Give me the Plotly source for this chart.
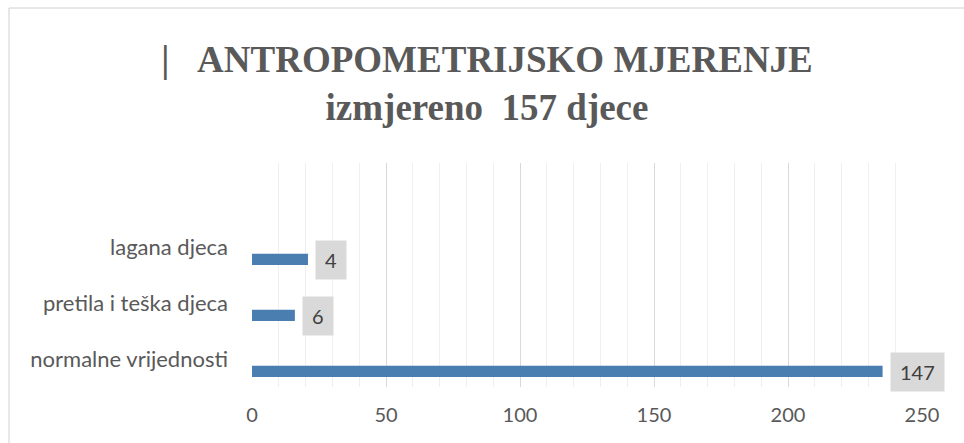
import plotly.graph_objects as go

# categories (bottom to top) and what the chart shows
categories = ["normalne vrijednosti", "pretila i teška djeca", "lagana djeca"]
bar_lengths = [235.3, 16.0, 20.9]      # bar lengths as drawn on the axis
label_values = [147, 6, 4]             # numbers printed in the data labels

title_line1 = "|\u00a0\u00a0\u00a0ANTROPOMETRIJSKO MJERENJE"
title_line2 = "izmjereno\u00a0\u00a0157 djece"

W, H = 964, 443
L, R, T, B = 252, 42, 163, 56

bar_color = "#4a7eb0"
grey_text = "#595959"

fig = go.Figure()
fig.add_trace(go.Bar(
    y=list(range(len(categories))),
    x=bar_lengths,
    orientation="h",
    marker=dict(color=bar_color, line=dict(width=0)),
    width=0.2,
    offset=-0.32,
    hoverinfo="skip",
))

# data labels in grey boxes
for i, (v, lab) in enumerate(zip(bar_lengths, label_values)):
    fig.add_annotation(
        x=v, y=i, xref="x", yref="y",
        text=str(lab), showarrow=False,
        xanchor="left", yanchor="middle",
        xshift=7, yshift=-12.5,
        bgcolor="#d9d9d9", borderpad=9, height=20,
        font=dict(family="Lato", size=20, color="#404040"),
    )

# outer chart border (top and left edges visible)
pw = W - L - R
ph = H - T - B
x0 = (9 - L) / pw
x1 = (W + 20 - L) / pw
y0 = (H - B - (H + 20)) / ph
y1 = (H - B - 8) / ph
fig.add_shape(type="rect", xref="paper", yref="paper",
              x0=x0, x1=x1, y0=y0, y1=y1,
              line=dict(color="#d0d0d0", width=1), layer="below")

fig.update_layout(
    width=W, height=H,
    margin=dict(l=L, r=R, t=T, b=B, pad=0),
    paper_bgcolor="white", plot_bgcolor="white",
    showlegend=False,
    title=dict(
        text=title_line1 + "<br>" + title_line2,
        x=487 / W, xanchor="center", xref="container",
        y=1 - 72 / H, yanchor="top", yref="container",
        font=dict(family="Liberation Serif", size=37, color=grey_text, weight="bold"),
    ),
    xaxis=dict(
        range=[0, 250], dtick=50, tick0=0,
        showgrid=True, gridcolor="#d9d9d9", gridwidth=1,
        minor=dict(dtick=10, showgrid=True, gridcolor="#efefef", gridwidth=1),
        zeroline=False, showline=False, ticks="",
        tickfont=dict(family="Lato", size=20, color=grey_text),
        ticklabelstandoff=14,
    ),
    yaxis=dict(
        range=[-0.5, 3.5],
        tickvals=list(range(len(categories))), ticktext=categories,
        showgrid=False, zeroline=False, showline=False, ticks="",
        tickfont=dict(family="Lato", size=22, color=grey_text),
        ticklabelstandoff=23,
    ),
)

fig.write_html("out.html", config={"displayModeBar": False},
               post_script="document.body.style.margin='0';")
